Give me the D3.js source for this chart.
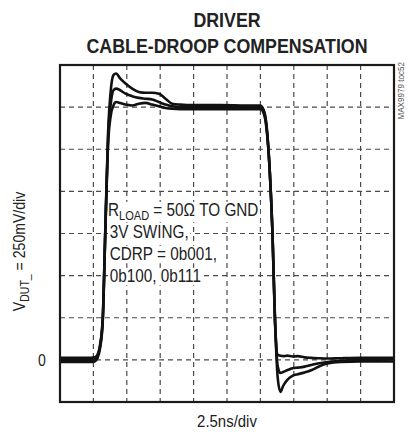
<!DOCTYPE html>
<html>
<head>
<meta charset="utf-8">
<script src="https://cdn.jsdelivr.net/npm/d3@7"></script>
<style>
  html, body { margin: 0; padding: 0; background: #fff; }
  svg { display: block; }
  text { font-family: "Liberation Sans", Arial, Helvetica, sans-serif; }
</style>
</head>
<body>
<svg id="chart" width="408" height="437"></svg>
<script>
// Time base (ns) shared by the three captured traces
const timeNs = [0, 2.3, 2.6, 2.8, 3.0, 3.2, 3.4, 3.6, 3.8, 4.0, 4.2, 4.5, 4.9, 5.4, 5.9, 6.4, 6.9, 7.4, 7.9, 8.4, 9.0, 10, 12, 14,
                15.0, 15.3, 15.5, 15.7, 15.9, 16.1, 16.3, 16.5, 16.7, 17.0, 17.4, 17.8, 18.3, 18.8, 19.3, 20.0, 21.0, 22.5, 25];

// Output voltage (V) for each CDRP setting
const cdrp111 = [0.012, 0.012, 0.015, 0.03, 0.09, 0.25, 0.8, 1.35, 1.6, 1.69, 1.70, 1.67, 1.64, 1.61, 1.59, 1.585, 1.585, 1.58, 1.55, 1.52, 1.515, 1.512, 1.512, 1.51,
                 1.51, 1.47, 1.36, 1.12, 0.76, 0.22, -0.11, -0.19, -0.155, -0.12, -0.095, -0.085, -0.075, -0.062, -0.042, -0.022, -0.012, -0.01, -0.01];
const cdrp100 = [0.0, 0.0, 0.003, 0.02, 0.08, 0.24, 0.79, 1.32, 1.52, 1.60, 1.61, 1.60, 1.58, 1.565, 1.555, 1.55, 1.545, 1.53, 1.515, 1.505, 1.50, 1.50, 1.50, 1.50,
                 1.50, 1.46, 1.35, 1.12, 0.76, 0.22, -0.04, -0.078, -0.072, -0.062, -0.05, -0.046, -0.04, -0.03, -0.022, -0.013, -0.006, 0.0, 0.002];
const cdrp001 = [-0.012, -0.012, -0.009, 0.01, 0.07, 0.23, 0.78, 1.28, 1.45, 1.51, 1.53, 1.525, 1.515, 1.51, 1.52, 1.525, 1.515, 1.505, 1.495, 1.49, 1.488, 1.488, 1.488, 1.488,
                 1.488, 1.45, 1.34, 1.12, 0.76, 0.22, 0.03, 0.025, 0.022, 0.025, 0.02, 0.022, 0.015, 0.012, 0.01, 0.008, 0.01, 0.012, 0.012];

const traces = [cdrp111, cdrp100, cdrp001];

// Scope graticule: 10 horizontal divisions of 2.5ns, 8 vertical divisions of 250mV
const xDivs = d3.range(0, 25.01, 2.5);
const yDivs = d3.range(-0.25, 1.751, 0.25);

const titleLines = ["DRIVER", "CABLE-DROOP COMPENSATION"];
const noteLines = ["3V SWING,", "CDRP = 0b001,", "0b100, 0b111"];

const svg = d3.select("#chart");
const plot = { left: 60, top: 65, right: 394, bottom: 402 };

const x = d3.scaleLinear().domain([0, 25]).range([plot.left, plot.right]);
const y = d3.scaleLinear().domain([-0.25, 1.75]).range([plot.bottom, plot.top]);

// Condensed lettering: squeeze text horizontally around its anchor
const squeeze = 0.88;

// Dashed graticule lines
const grid = svg.append("g").attr("stroke", "#4a4a4a").attr("stroke-width", 1.2).attr("stroke-dasharray", "5,4");
grid.selectAll("line.v").data(xDivs.slice(1, -1)).join("line")
  .attr("x1", d => x(d)).attr("x2", d => x(d))
  .attr("y1", plot.top).attr("y2", plot.bottom);
grid.selectAll("line.h").data(yDivs.slice(1, -1)).join("line")
  .attr("y1", d => y(d)).attr("y2", d => y(d))
  .attr("x1", plot.left).attr("x2", plot.right);

// Annotation (drawn on a white backing that knocks out the graticule)
const note = svg.append("g")
  .attr("transform", `translate(108, 0) scale(0.85, 1)`)
  .attr("font-size", 18).attr("fill", "#222");
const backing = note.append("g");
const r = note.append("text").attr("x", 0).attr("y", 216);
r.append("tspan").text("R");
r.append("tspan").attr("font-size", 13).attr("dy", 4).text("LOAD");
r.append("tspan").attr("dy", -4).text(" = 50Ω TO GND");
note.selectAll("text.l").data(noteLines).join("text")
  .attr("class", "l")
  .attr("x", 2)
  .attr("y", (d, i) => 238 + i * 22)
  .text(d => d);
note.selectAll("text").each(function () {
  const b = this.getBBox();
  backing.append("rect")
    .attr("x", b.x - 2).attr("y", b.y + 2)
    .attr("width", b.width + 4).attr("height", b.height - 3)
    .attr("fill", "#fff");
});

// Traces
const line = d3.line()
  .x((d, i) => x(timeNs[i]))
  .y(d => y(d))
  .curve(d3.curveMonotoneX);

svg.append("g").selectAll("path").data(traces).join("path")
  .attr("d", line)
  .attr("fill", "none")
  .attr("stroke", "#111")
  .attr("stroke-width", 2.6)
  .attr("stroke-linejoin", "round");

// Frame
svg.append("rect")
  .attr("x", plot.left).attr("y", plot.top)
  .attr("width", plot.right - plot.left).attr("height", plot.bottom - plot.top)
  .attr("fill", "none").attr("stroke", "#1a1a1a").attr("stroke-width", 2.2);

// Title
svg.append("g").selectAll("text").data(titleLines).join("text")
  .attr("transform", (d, i) => `translate(${(plot.left + plot.right) / 2}, ${27 + i * 26}) scale(0.89, 1)`)
  .attr("text-anchor", "middle")
  .attr("font-weight", "bold")
  .attr("font-size", 20)
  .attr("fill", "#222")
  .text(d => d);

// Y axis label and zero marker
const yl = svg.append("text")
  .attr("transform", `translate(25, ${(plot.top + plot.bottom) / 2 + 18}) rotate(-90) scale(${squeeze}, 1)`)
  .attr("text-anchor", "middle").attr("font-size", 16).attr("fill", "#222");
yl.append("tspan").text("V");
yl.append("tspan").attr("font-size", 12).attr("dy", 4).text("DUT_");
yl.append("tspan").attr("dy", -4).text("  =  250mV/div");

svg.append("text")
  .attr("transform", `translate(42, ${y(0) + 6}) scale(${squeeze}, 1)`)
  .attr("text-anchor", "middle").attr("font-size", 16).attr("fill", "#222")
  .text("0");

// X axis label
svg.append("text")
  .attr("transform", `translate(${(plot.left + plot.right) / 2}, 427) scale(${squeeze}, 1)`)
  .attr("text-anchor", "middle").attr("font-size", 17).attr("fill", "#222")
  .text("2.5ns/div");

// Figure id
svg.append("text")
  .attr("transform", `translate(404, 62) rotate(-90) scale(0.9, 1)`)
  .attr("text-anchor", "end").attr("font-size", 9).attr("fill", "#555")
  .text("MAX9979 toc52");
</script>
</body>
</html>
